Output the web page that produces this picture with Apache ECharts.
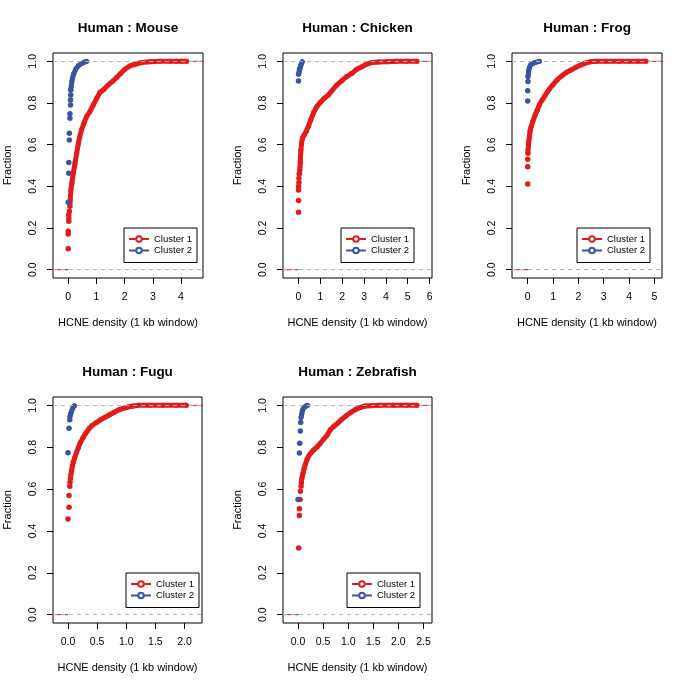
<!DOCTYPE html>
<html>
<head>
<meta charset="utf-8">
<script src="https://cdn.jsdelivr.net/npm/echarts@6/dist/echarts.min.js"></script>
<style>
html,body{margin:0;padding:0;background:#fff;}
#chart{width:689px;height:689px;}
</style>
</head>
<body>
<div id="chart"></div>
<script>
// ---------- DATA ----------
const panelTitles = ['Human : Mouse', 'Human : Chicken', 'Human : Frog', 'Human : Fugu', 'Human : Zebrafish'];
const seriesNames = ['Cluster 1', 'Cluster 2'];
const xLabelText = 'HCNE density (1 kb window)';
const yLabelText = 'Fraction';

const yTicks = [0, 0.2, 0.4, 0.6, 0.8, 1.0];
const yRange = [-0.04, 1.04];

const mouseXTicks = [0, 1, 2, 3, 4];
const chickenXTicks = [0, 1, 2, 3, 4, 5, 6];
const frogXTicks = [0, 1, 2, 3, 4, 5];
const fuguXTicks = [0, 0.5, 1.0, 1.5, 2.0];
const zebrafishXTicks = [0, 0.5, 1.0, 1.5, 2.0, 2.5];

const mouseXRange = [-0.54, 4.78];
const chickenXRange = [-0.71, 6.11];
const frogXRange = [-0.62, 5.30];
const fuguXRange = [-0.258, 2.30];
const zebrafishXRange = [-0.30, 2.67];

// Human : Mouse
const mouseC1Points = [[0,0.10],[0,0.171],[0,0.184],[0.02,0.232],[0.02,0.248],[0.02,0.264],[0.04,0.28],[0.06,0.304],[0.06,0.32],[0.07,0.335]];
const mouseC1Curve = [[0.08,0.351],[0.095,0.383],[0.13,0.415],[0.18,0.463],[0.24,0.511],[0.30,0.559],[0.36,0.607],[0.41,0.639],[0.47,0.671],[0.56,0.703],[0.65,0.735],[0.77,0.759],[0.89,0.791],[1.01,0.823],[1.12,0.85],[1.27,0.866],[1.42,0.887],[1.60,0.907],[1.72,0.923],[1.86,0.942],[2.01,0.962],[2.19,0.978],[2.37,0.986],[2.60,0.994],[2.90,0.998],[3.25,1.0],[3.61,1.0],[3.85,1.0],[4.02,1.0],[4.20,1.0]];
const mouseC2Points = [[0,0.324],[0.02,0.463],[0.02,0.514],[0.04,0.623],[0.04,0.655],[0.06,0.727],[0.06,0.748],[0.08,0.791],[0.08,0.815],[0.09,0.839],[0.09,0.863]];
const mouseC2Curve = [[0.09,0.863],[0.11,0.882],[0.13,0.903],[0.15,0.919],[0.20,0.942],[0.27,0.963],[0.36,0.979],[0.47,0.99],[0.59,0.997],[0.65,1.0]];

// Human : Chicken
const chickenC1Points = [[0,0.276],[0,0.332],[0,0.383],[0,0.399],[0.02,0.418],[0.02,0.439],[0.03,0.46]];
const chickenC1Curve = [[0.05,0.463],[0.06,0.479],[0.08,0.511],[0.09,0.543],[0.11,0.575],[0.14,0.607],[0.18,0.631],[0.26,0.647],[0.35,0.663],[0.46,0.69],[0.56,0.719],[0.69,0.754],[0.84,0.783],[0.99,0.802],[1.18,0.823],[1.37,0.839],[1.53,0.859],[1.76,0.887],[1.98,0.907],[2.21,0.927],[2.44,0.942],[2.67,0.962],[2.90,0.974],[3.13,0.987],[3.36,0.994],[3.66,0.997],[4.05,0.998],[4.50,1.0],[4.96,1.0],[5.42,1.0]];
const chickenC2Points = [[0,0.906],[0,0.938],[0.03,0.95],[0.05,0.962]];
const chickenC2Curve = [[0.05,0.962],[0.08,0.971],[0.11,0.982],[0.14,0.99],[0.17,0.998]];

// Human : Frog
const frogC1Points = [[0,0.411],[0,0.494],[0,0.53],[0.01,0.559],[0.01,0.575]];
const frogC1Curve = [[0.03,0.591],[0.04,0.615],[0.07,0.639],[0.09,0.663],[0.13,0.684],[0.20,0.711],[0.28,0.738],[0.37,0.764],[0.46,0.791],[0.57,0.815],[0.70,0.839],[0.83,0.863],[0.99,0.887],[1.16,0.911],[1.34,0.93],[1.52,0.946],[1.71,0.958],[1.89,0.971],[2.09,0.982],[2.29,0.992],[2.49,0.998],[2.69,1.0],[3.08,1.0],[3.61,1.0],[4.0,1.0],[4.34,1.0],[4.67,1.0]];
const frogC2Points = [[0,0.81],[0,0.859],[0.01,0.903],[0.01,0.927]];
const frogC2Curve = [[0.03,0.939],[0.04,0.95],[0.05,0.962],[0.08,0.974],[0.12,0.984],[0.20,0.99],[0.30,0.995],[0.46,1.0]];

// Human : Fugu
const fuguC1Points = [[0,0.457],[0.017,0.513],[0.017,0.569],[0.03,0.614],[0.034,0.633]];
const fuguC1Curve = [[0.04,0.649],[0.05,0.67],[0.063,0.691],[0.075,0.71],[0.09,0.729],[0.115,0.75],[0.143,0.774],[0.178,0.798],[0.212,0.822],[0.258,0.846],[0.304,0.867],[0.361,0.889],[0.418,0.905],[0.487,0.918],[0.556,0.931],[0.63,0.942],[0.705,0.954],[0.785,0.966],[0.865,0.978],[0.946,0.986],[1.03,0.992],[1.12,0.997],[1.2,1.0],[1.4,1.0],[1.63,1.0],[1.86,1.0],[2.03,1.0]];
const fuguC2Points = [[0,0.774],[0.017,0.891],[0.03,0.931]];
const fuguC2Curve = [[0.034,0.947],[0.046,0.96],[0.057,0.97],[0.075,0.982],[0.09,0.992],[0.11,0.998]];

// Human : Zebrafish
const zebrafishC1Points = [[0.013,0.319],[0.027,0.474],[0.027,0.506],[0.04,0.55],[0.046,0.59],[0.06,0.614],[0.066,0.63]];
const zebrafishC1Curve = [[0.073,0.646],[0.086,0.662],[0.10,0.678],[0.12,0.697],[0.146,0.718],[0.18,0.742],[0.212,0.758],[0.26,0.774],[0.31,0.787],[0.378,0.801],[0.444,0.819],[0.51,0.838],[0.577,0.857],[0.643,0.883],[0.71,0.899],[0.79,0.915],[0.875,0.934],[0.96,0.95],[1.05,0.966],[1.15,0.981],[1.24,0.99],[1.34,0.997],[1.44,0.998],[1.64,1.0],[1.9,1.0],[2.17,1.0],[2.37,1.0]];
const zebrafishC2Points = [[0,0.55],[0.027,0.772],[0.033,0.819],[0.046,0.878],[0.053,0.918]];
const zebrafishC2Curve = [[0.06,0.942],[0.073,0.958],[0.086,0.974],[0.106,0.986],[0.133,0.994],[0.166,0.998],[0.186,1.0]];

// ---------- LAYOUT / STYLE ----------
const FONT = 'Liberation Sans, Arial, Helvetica, sans-serif';
const RED = '#E41A1C';
const BLUE = '#3A53A3';
const grids = [
  {left: 53, top: 53, width: 150, height: 225},
  {left: 283, top: 53, width: 149, height: 225},
  {left: 512, top: 53, width: 150, height: 225},
  {left: 53, top: 397, width: 149, height: 226},
  {left: 283, top: 397, width: 149, height: 226}
];
const legendPos = [
  {left: 124, top: 228}, {left: 341, top: 228}, {left: 577, top: 228},
  {left: 126, top: 573}, {left: 347, top: 573}
];

const panels = [
  {xt: mouseXTicks, xr: mouseXRange, dec: 0, c1: [mouseC1Points, mouseC1Curve], c2: [mouseC2Points, mouseC2Curve]},
  {xt: chickenXTicks, xr: chickenXRange, dec: 0, c1: [chickenC1Points, chickenC1Curve], c2: [chickenC2Points, chickenC2Curve]},
  {xt: frogXTicks, xr: frogXRange, dec: 0, c1: [frogC1Points, frogC1Curve], c2: [frogC2Points, frogC2Curve]},
  {xt: fuguXTicks, xr: fuguXRange, dec: 1, c1: [fuguC1Points, fuguC1Curve], c2: [fuguC2Points, fuguC2Curve]},
  {xt: zebrafishXTicks, xr: zebrafishXRange, dec: 1, c1: [zebrafishC1Points, zebrafishC1Curve], c2: [zebrafishC2Points, zebrafishC2Curve]}
];

const option = {
  animation: false,
  backgroundColor: '#fff',
  textStyle: {fontFamily: FONT, color: '#000'},
  title: [], grid: [], xAxis: [], yAxis: [], legend: [], series: []
};

// legend-only series (first, so the legend takes their look)
option.series.push({name: seriesNames[0], type: 'line', data: [], symbol: 'emptyCircle', symbolSize: 4.5, color: RED, lineStyle: {width: 1, color: RED}, itemStyle: {color: RED}});
option.series.push({name: seriesNames[1], type: 'line', data: [], symbol: 'emptyCircle', symbolSize: 4.5, color: BLUE, lineStyle: {width: 1, color: BLUE}, itemStyle: {color: BLUE}});

function allX(c) {
  const xs = c[0].concat(c[1]).map(p => p[0]);
  return [Math.min.apply(null, xs), Math.max.apply(null, xs)];
}

panels.forEach((p, i) => {
  const g = grids[i];
  option.grid.push(Object.assign({show: true, borderColor: '#000', borderWidth: 1, backgroundColor: 'transparent', containLabel: false}, g));
  option.title.push({
    text: panelTitles[i], left: g.left + g.width / 2, textAlign: 'center', top: g.top - 32, padding: 0,
    textStyle: {fontSize: 13.5, fontWeight: 'bold', color: '#000', fontFamily: FONT}
  });
  option.xAxis.push({
    gridIndex: i, type: 'value', min: p.xr[0], max: p.xr[1],
    splitLine: {show: false}, axisLine: {show: false, onZero: false},
    axisTick: {show: true, inside: false, length: 6, customValues: p.xt, lineStyle: {color: '#000', width: 1}},
    axisLabel: {customValues: p.xt, formatter: v => Number(v).toFixed(p.dec), fontSize: 10.5, color: '#000', margin: 14, fontFamily: FONT},
    name: xLabelText, nameLocation: 'middle', nameGap: 39,
    nameTextStyle: {fontSize: 11, color: '#000', fontFamily: FONT}
  });
  option.yAxis.push({
    gridIndex: i, type: 'value', min: yRange[0], max: yRange[1],
    splitLine: {show: false}, axisLine: {show: false, onZero: false},
    axisTick: {show: true, inside: false, length: 6, customValues: yTicks, lineStyle: {color: '#000', width: 1}},
    axisLabel: {customValues: yTicks, formatter: v => Number(v).toFixed(1), rotate: 90, fontSize: 10.5, color: '#000', margin: 14, fontFamily: FONT},
    name: yLabelText, nameLocation: 'middle', nameGap: 40,
    nameTextStyle: {fontSize: 11, color: '#000', fontFamily: FONT}
  });
  option.legend.push(Object.assign({
    data: seriesNames, orient: 'vertical', selectedMode: false,
    padding: [6, 5, 7, 4], itemWidth: 20, itemHeight: 7, itemGap: 1.5,
    borderColor: '#000', borderWidth: 1, borderRadius: 0,
    itemStyle: {borderWidth: 1},
    textStyle: {fontSize: 9.5, color: '#000', fontFamily: FONT}
  }, legendPos[i]));

  // dashed reference lines at 0 and 1
  option.series.push({
    name: 'ref' + i, type: 'line', xAxisIndex: i, yAxisIndex: i, data: [], silent: true,
    markLine: {silent: true, symbol: 'none', label: {show: false},
      lineStyle: {color: '#B3B3B3', type: [4, 4], width: 1},
      data: [{yAxis: 0}, {yAxis: 1}]}
  });

  [[p.c1, RED], [p.c2, BLUE]].forEach(([c, col], k) => {
    const ext = allX(c);
    const dr = 0.08 * (ext[1] - ext[0]);
    // ecdf tails
    option.series.push({name: 'tailL' + i + k, type: 'line', xAxisIndex: i, yAxisIndex: i, symbol: 'none', clip: true,
      lineStyle: {color: col, width: 1}, data: [[ext[0] - 2 * dr, 0], [ext[0], 0]]});
    option.series.push({name: 'tailR' + i + k, type: 'line', xAxisIndex: i, yAxisIndex: i, symbol: 'none', clip: true,
      lineStyle: {color: col, width: 1}, data: [[ext[1], 1], [ext[1] + 2 * dr, 1]]});
    // dense part
    option.series.push({name: 'curve' + i + k, type: 'line', xAxisIndex: i, yAxisIndex: i, symbol: 'circle', symbolSize: 5, clip: true,
      itemStyle: {color: col}, lineStyle: {color: col, width: 5, cap: 'round', join: 'round'}, data: c[1]});
    // separate points
    option.series.push({name: 'pts' + i + k, type: 'scatter', xAxisIndex: i, yAxisIndex: i, symbol: 'circle', symbolSize: 5.5,
      itemStyle: {color: col, opacity: 1}, data: c[0]});
  });
});

const chart = echarts.init(document.getElementById('chart'), null, {renderer: 'canvas'});
chart.setOption(option);
</script>
</body>
</html>
